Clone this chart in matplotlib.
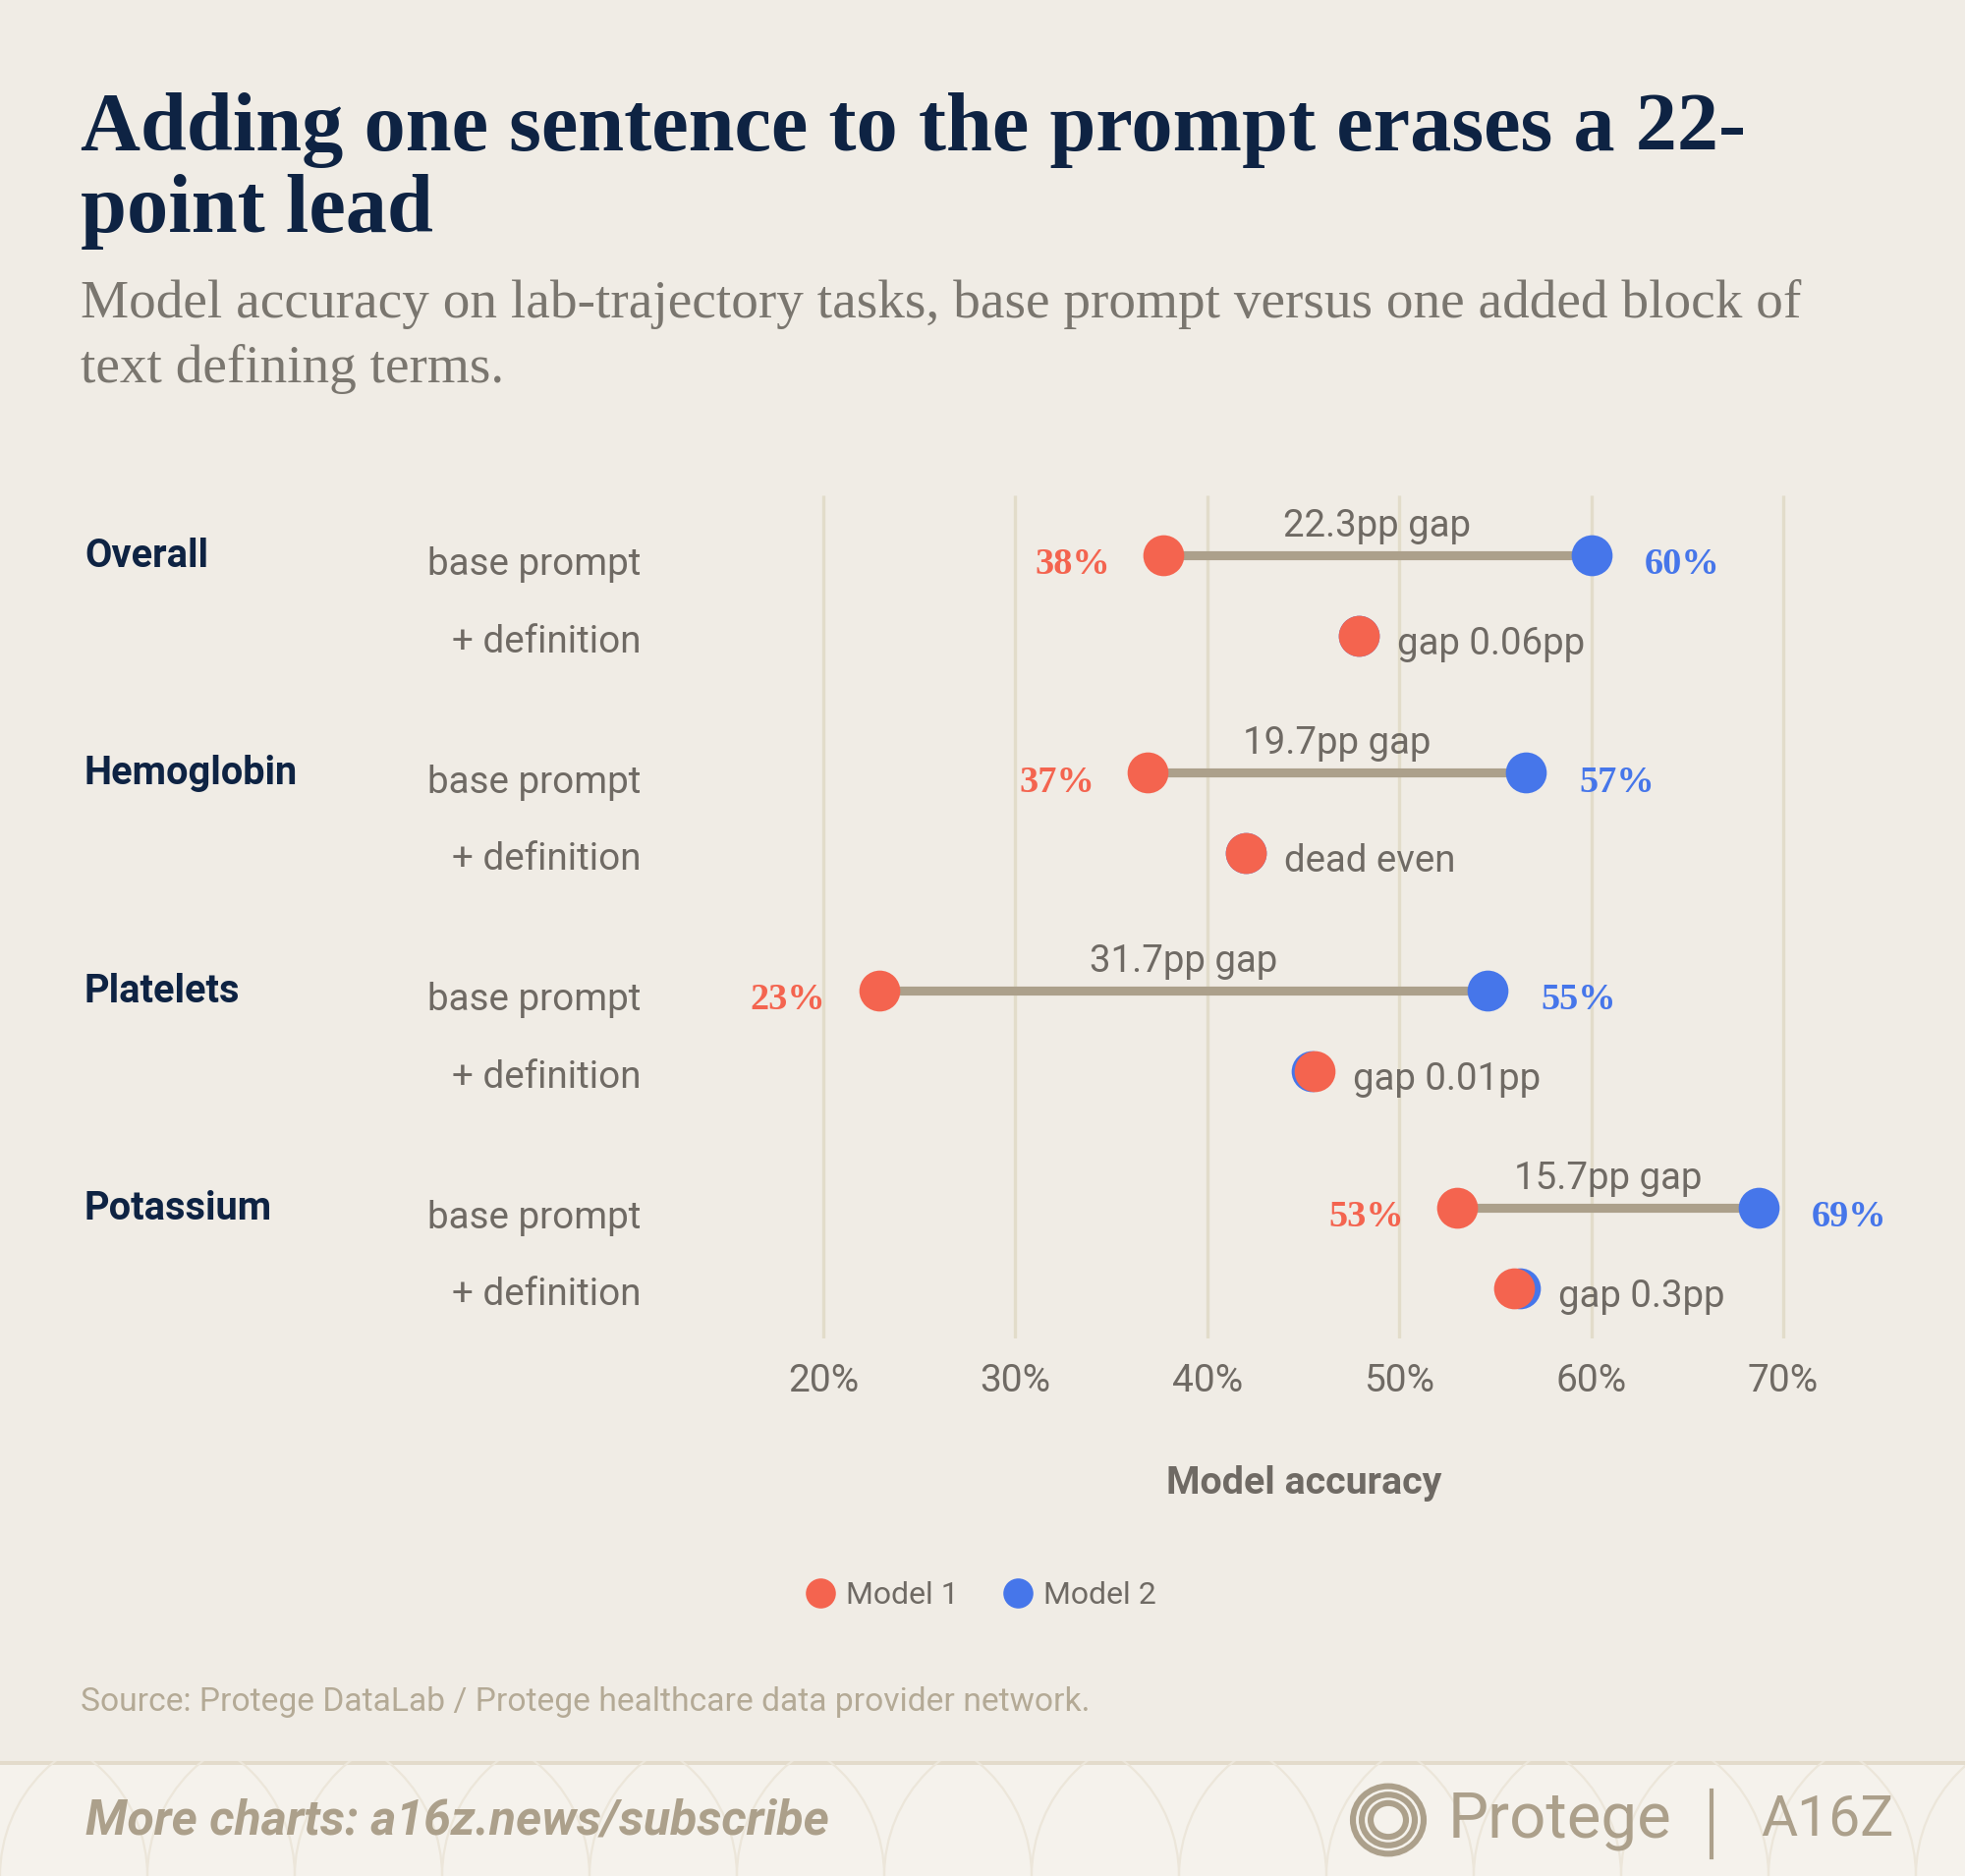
import matplotlib.pyplot as plt
import matplotlib.transforms as mtransforms
from matplotlib.lines import Line2D
from matplotlib.patches import Rectangle, Circle, Arc

# data
groups = ['Overall', 'Hemoglobin', 'Platelets', 'Potassium']
conditions = ['base prompt', '+ definition']
model1_base = [37.7, 36.9, 22.9, 53.0]
model2_base = [60.0, 56.6, 54.6, 68.7]
model1_def = [47.9, 42.0, 45.6, 56.0]
model2_def = [47.9, 42.0, 45.45, 56.3]
m1_labels = ['38%', '37%', '23%', '53%']
m2_labels = ['60%', '57%', '55%', '69%']
gap_base = ['22.3pp gap', '19.7pp gap', '31.7pp gap', '15.7pp gap']
gap_def = ['gap 0.06pp', 'dead even', 'gap 0.01pp', 'gap 0.3pp']
xticks = [20, 30, 40, 50, 60, 70]

# colours
BG = '#F0ECE5'
NAVY = '#0E2343'
RED = '#F4644F'
BLUE = '#4676EA'
GREY = '#6F6A64'
TAN = '#ACA08B'
GRID = '#E2DCCA'
SANS = 'Roboto'
SERIF = 'Liberation Serif'

W, H = 2000, 1909
DPI = 200


def fx(px):
    return px / W


def fy(py):
    return 1 - py / H


fig = plt.figure(figsize=(W / DPI, H / DPI), dpi=DPI, facecolor=BG)

# axes: gridlines run from y=504 to y=1362 px, 20% at x=838 px, 70% at x=1815 px
px_per = (1815 - 838) / 50.0
x_lo = 20 - 838 / px_per
x_hi = 20 + (W - 838) / px_per
ax = fig.add_axes([0, fy(1362), 1, (1362 - 504) / H])
ax.set_facecolor('none')
ax.set_xlim(x_lo, x_hi)
STEP = 2.7
ax.set_ylim((1362 - 565) / 82.0, -(565 - 504) / 82.0)
for s in ax.spines.values():
    s.set_visible(False)
ax.set_yticks([])
ax.set_xticks(xticks)
ax.set_xticklabels([f'{t}%' for t in xticks], fontsize=14, color=GREY,
                   family=SANS)
ax.tick_params(axis='x', length=0, pad=9)
ax.vlines(xticks, *ax.get_ylim(), color=GRID, lw=1.2, zorder=0)

lbl = mtransforms.blended_transform_factory(fig.transFigure, ax.transData)

for g, name in enumerate(groups):
    yb = g * STEP
    yd = yb + 1
    ax.text(fx(86), yb + 0.01, name, transform=lbl, fontsize=14.3,
            fontweight='bold', color=NAVY, family=SANS, va='center')
    ax.text(fx(652), yb + 0.12, conditions[0], transform=lbl, fontsize=13.9,
            color=GREY, family=SANS, va='center', ha='right')
    ax.text(fx(652), yd + 0.08, conditions[1], transform=lbl, fontsize=13.9,
            color=GREY, family=SANS, va='center', ha='right')

    # base prompt row
    ax.plot([model1_base[g], model2_base[g]], [yb, yb], color=TAN, lw=3.3,
            zorder=2, solid_capstyle='butt')
    ax.plot(model1_base[g], yb, 'o', ms=15, color=RED, mec='none', zorder=3)
    ax.plot(model2_base[g], yb, 'o', ms=15, color=BLUE, mec='none', zorder=3)
    ax.annotate(m1_labels[g], (model1_base[g], yb), xytext=(-19.5, -3.5),
                textcoords='offset points', ha='right', va='center',
                fontsize=13.8, fontweight='bold', color=RED, family=SERIF)
    ax.annotate(m2_labels[g], (model2_base[g], yb), xytext=(19.5, -3.5),
                textcoords='offset points', ha='left', va='center',
                fontsize=13.8, fontweight='bold', color=BLUE, family=SERIF)
    ax.text((model1_base[g] + model2_base[g]) / 2, yb - 0.36, gap_base[g],
            fontsize=13.8, color=GREY, family=SANS, ha='center', va='center')

    # + definition row
    ax.plot(model2_def[g], yd, 'o', ms=15, color=BLUE, mec='none', zorder=3)
    ax.plot(model1_def[g], yd, 'o', ms=15, color=RED, mec='none', zorder=4)
    ax.annotate(gap_def[g], (max(model1_def[g], model2_def[g]), yd),
                xytext=(14, -3), textcoords='offset points', ha='left',
                va='center', fontsize=13.8, color=GREY, family=SANS)

fig.text(fx(1327), fy(1509), 'Model accuracy', fontsize=14.2, fontweight='bold',
         color=GREY, family=SANS, ha='center', va='center')

handles = [Line2D([], [], marker='o', ls='none', ms=11, color=RED, mec='none'),
           Line2D([], [], marker='o', ls='none', ms=11, color=BLUE, mec='none')]
fig.legend(handles, ['Model 1', 'Model 2'], loc='center',
           bbox_to_anchor=(fx(998), fy(1624)), ncol=2, frameon=False,
           prop={'family': SANS, 'size': 11.5}, labelcolor=GREY,
           handletextpad=0.3, columnspacing=1.4, handlelength=1.0)

# title and subtitle
fig.text(fx(82), fy(153), 'Adding one sentence to the prompt erases a 22-',
         fontsize=30.4, fontweight='bold', color=NAVY, family=SERIF,
         va='baseline')
fig.text(fx(82), fy(236), 'point lead', fontsize=30.4, fontweight='bold',
         color=NAVY, family=SERIF, va='baseline')
fig.text(fx(82), fy(323),
         'Model accuracy on lab-trajectory tasks, base prompt versus one added block of',
         fontsize=19.9, color='#7A766F', family=SERIF, va='baseline')
fig.text(fx(82), fy(389), 'text defining terms.', fontsize=19.9,
         color='#7A766F', family=SERIF, va='baseline')

fig.text(fx(82), fy(1732),
         'Source: Protege DataLab / Protege healthcare data provider network.',
         fontsize=12.1, color='#B4AA96', family=SANS, va='center')

# footer band with a faint fan pattern
footer = Rectangle((0, 0), 1, fy(1792), transform=fig.transFigure,
                   facecolor='#F5F2EC', edgecolor='none', zorder=0)
fig.patches.append(footer)
fig.patches.append(Rectangle((0, fy(1796)), 1, 4 / H, transform=fig.transFigure,
                             facecolor='#E3DBCB', edgecolor='none', zorder=0))
for cx in range(0, W + 200, 150):
    arc = Arc((fx(cx), fy(1909)), 300 / W, 300 / H, theta1=0, theta2=180,
              transform=fig.transFigure, edgecolor='#ECE6DA', lw=0.8, zorder=0)
    arc.set_clip_path(footer)
    fig.patches.append(arc)
fig.text(fx(87), fy(1853), 'More charts: a16z.news/subscribe', fontsize=18,
         fontweight='bold', style='italic', color=TAN, family=SANS,
         va='center')

# Protege mark: concentric rings
for r in [36, 27, 18]:
    fig.patches.append(Circle((fx(1413), fy(1852)), r / W,
                              transform=fig.transFigure, fill=False,
                              edgecolor=TAN, lw=2.2))
fig.text(fx(1474), fy(1852), 'Protege', fontsize=23.5, color=TAN, family=SANS,
         va='center')
fig.add_artist(Line2D([fx(1742), fx(1742)], [fy(1822), fy(1890)],
                      transform=fig.transFigure, color=TAN, lw=1.5))
fig.text(fx(1792), fy(1852), 'A16Z', fontsize=20.5, color=TAN, family=SANS,
         va='center')

fig.savefig('out.png', dpi=DPI, facecolor=BG)
